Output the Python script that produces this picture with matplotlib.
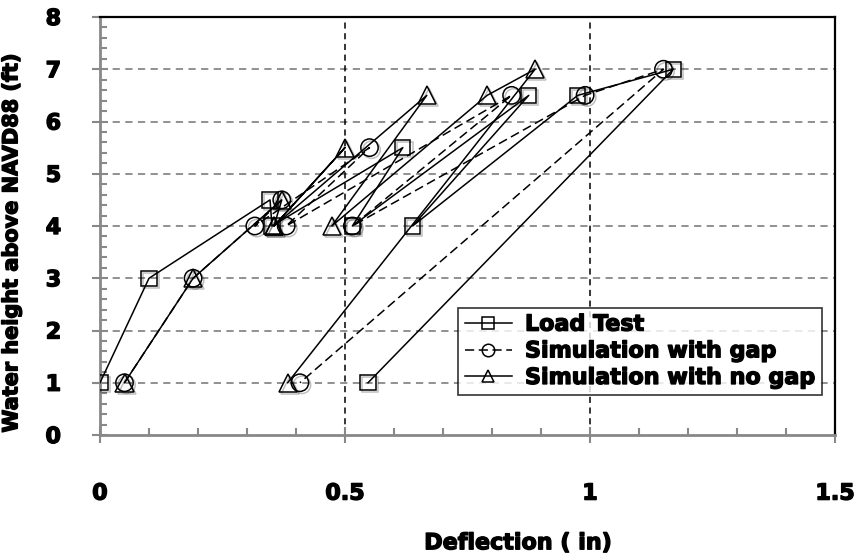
import matplotlib
matplotlib.use("Agg")
import matplotlib.pyplot as plt
from matplotlib.ticker import MultipleLocator
from matplotlib.lines import Line2D
import matplotlib.patheffects as pe

# ---- data ----
load_x = [0.0, 0.10, 0.347, 0.351, 0.618, 0.515, 0.875, 0.638, 0.975, 1.17, 0.547]
load_y = [1, 3, 4.5, 4, 5.5, 4, 6.5, 4, 6.5, 7, 1]
gap_x = [0.05, 0.19, 0.371, 0.316, 0.55, 0.38, 0.84, 0.515, 0.99, 1.15, 0.408]
gap_y = [1, 3, 4.5, 4, 5.5, 4, 6.5, 4, 6.5, 7, 1]
nogap_x = [0.05, 0.19, 0.371, 0.355, 0.50, 0.355, 0.667, 0.473, 0.79, 0.888, 0.383]
nogap_y = [1, 3, 4.5, 4, 5.5, 4, 6.5, 4, 6.5, 7, 1]
labels = ["Load Test", "Simulation with gap", "Simulation with no gap"]
x_ticks = [0, 0.5, 1, 1.5]
x_ticklabels = ["0", "0.5", "1", "1.5"]
y_ticks = [0, 1, 2, 3, 4, 5, 6, 7, 8]

plt.rcParams['font.family'] = ["DejaVu Sans"]
heavy = [pe.withStroke(linewidth=1.0, foreground="black")]

fig = plt.figure(figsize=(8.6, 5.55), dpi=100)
ax = fig.add_axes([100/860, 1-435/555, 735/860, 418/555])

gray = "#888888"
ms = 11
series = [
    (load_x, load_y, "-", "s", ms),
    (gap_x, gap_y, (0, (6, 3)), "o", ms + 1.5),
    (nogap_x, nogap_y, "-", "^", ms + 2),
]
shadow = [pe.SimpleLineShadow(offset=(1.5, -1.5), shadow_color="black", alpha=0.25), pe.Normal()]
handles = []
for (xs, ys, ls, mk, size), lab in zip(series, labels):
    ax.plot(xs, ys, color="black", lw=1.1, ls=ls, zorder=4)
    ax.plot(xs, ys, ls="none", marker=mk, ms=size, mfc="none", mec="black", mew=1.1,
            zorder=5, path_effects=shadow)
    handles.append(Line2D([], [], color="black", lw=1.1, ls=ls, marker=mk, ms=9,
                          mfc="none", mec="black", mew=1.1, label=lab))

ax.set_xlim(0, 1.5)
ax.set_ylim(0, 8)
ax.set_xticks(x_ticks)
ax.set_xticklabels(x_ticklabels)
ax.set_yticks(y_ticks)
ax.xaxis.set_minor_locator(MultipleLocator(0.1))
ax.yaxis.set_minor_locator(MultipleLocator(0.2))

for yv in y_ticks[1:-1]:
    ax.axhline(yv, color=gray, lw=1.3, ls=(0, (4, 3)), zorder=1)
for xv in [0.5, 1.0]:
    ax.axvline(xv, color="black", lw=1.1, ls=(0, (4, 3)), zorder=1)

for s in ["left", "bottom"]:
    ax.spines[s].set_color(gray)
    ax.spines[s].set_linewidth(2)
for s in ["top", "right"]:
    ax.spines[s].set_color("black")
    ax.spines[s].set_linewidth(1.6)

ax.tick_params(axis="both", which="major", direction="inout", length=12, width=1.5,
               color=gray)
ax.tick_params(axis="both", which="minor", direction="in", length=5, width=1.5, color=gray)
ax.tick_params(axis="x", which="major", pad=29)
ax.tick_params(axis="y", which="major", pad=22)
for lab in ax.get_xticklabels() + ax.get_yticklabels():
    lab.set_fontweight("bold")
    lab.set_fontsize(16)
    lab.set_path_effects(heavy)

ax.set_xlabel("Deflection ( in)", fontsize=16, fontweight="bold", labelpad=17,
              path_effects=heavy)
ax.xaxis.set_label_coords(0.569, -0.235)
ax.set_ylabel("Water height above NAVD88 (ft)", fontsize=15, fontweight="bold",
              labelpad=11, path_effects=heavy)
ax.yaxis.set_label_coords(-0.107, 0.46)

leg = ax.legend(handles=handles, loc="lower right", bbox_to_anchor=(0.998, 0.07),
                frameon=True, fancybox=False, edgecolor="black", handlelength=2.1,
                borderpad=0.3, labelspacing=0.3, handletextpad=0.6,
                prop={"weight": "bold", "size": 16})
leg.get_frame().set_linewidth(1.2)
for t in leg.get_texts():
    t.set_path_effects(heavy)

fig.savefig("out.png", dpi=100)
